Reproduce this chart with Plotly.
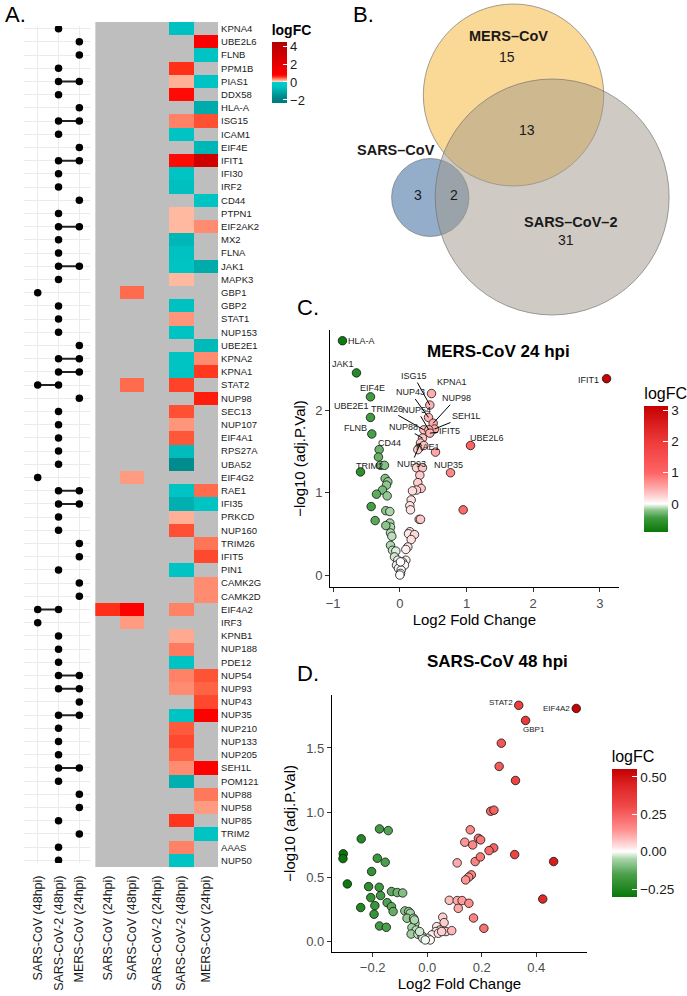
import numpy as np
import plotly.graph_objects as go

W, H = 687, 996

# ---------------- DATA ----------------
genes = ["KPNA4", "UBE2L6", "FLNB", "PPM1B", "PIAS1", "DDX58", "HLA-A", "ISG15", "ICAM1", "EIF4E",
         "IFIT1", "IFI30", "IRF2", "CD44", "PTPN1", "EIF2AK2", "MX2", "FLNA", "JAK1", "MAPK3",
         "GBP1", "GBP2", "STAT1", "NUP153", "UBE2E1", "KPNA2", "KPNA1", "STAT2", "NUP98", "SEC13",
         "NUP107", "EIF4A1", "RPS27A", "UBA52", "EIF4G2", "RAE1", "IFI35", "PRKCD", "NUP160", "TRIM26",
         "IFIT5", "PIN1", "CAMK2G", "CAMK2D", "EIF4A2", "IRF3", "KPNB1", "NUP188", "PDE12", "NUP54",
         "NUP93", "NUP43", "NUP35", "NUP210", "NUP133", "NUP205", "SEH1L", "POM121", "NUP88", "NUP58",
         "NUP85", "TRIM2", "AAAS", "NUP50"]

heat_conditions = ["SARS-CoV (24hpi)", "SARS-CoV (48hpi)", "SARS-CoV-2 (24hpi)",
                   "SARS-CoV-2 (48hpi)", "MERS-CoV (24hpi)"]
dot_conditions = ["SARS-CoV (48hpi)", "SARS-CoV-2 (48hpi)", "MERS-CoV (24hpi)"]

fc_sars_24 = {"EIF4A2": 0.58}
fc_sars_48 = {"GBP1": 0.4, "STAT2": 0.4, "EIF4G2": 0.25, "EIF4A2": 0.85, "IRF3": 0.25}
fc_cov2_24 = {}
fc_cov2_48 = {
    "KPNA4": -0.55, "PPM1B": 0.58, "PIAS1": 0.18, "DDX58": 0.75, "ISG15": 0.33, "ICAM1": -0.5,
    "IFIT1": 0.75, "IFI30": -0.5, "IRF2": -0.6, "PTPN1": 0.15, "EIF2AK2": 0.15, "MX2": -0.75,
    "FLNA": -0.55, "JAK1": -0.5, "MAPK3": 0.15, "GBP2": -0.55, "STAT1": 0.27, "NUP153": -0.5,
    "KPNA2": -0.5, "KPNA1": -0.5, "STAT2": 0.52, "SEC13": 0.48, "NUP107": 0.27, "EIF4A1": 0.46,
    "RPS27A": -0.65, "UBA52": -1.6, "RAE1": -0.5, "IFI35": -0.9, "PRKCD": 0.18, "NUP160": 0.48,
    "PIN1": -0.5, "EIF4A2": 0.33, "KPNB1": 0.2, "NUP188": 0.35, "PDE12": -0.5, "NUP54": 0.33,
    "NUP93": 0.3, "NUP35": -0.5, "NUP210": 0.45, "NUP133": 0.5, "NUP205": 0.42, "SEH1L": 0.3,
    "POM121": -0.9, "NUP85": 0.56, "AAAS": 0.33, "NUP50": -0.5}
fc_mers_24 = {
    "UBE2L6": 1.0, "FLNB": -0.5, "PIAS1": -0.5, "HLA-A": -1.0, "ISG15": 0.48, "EIF4E": -0.75,
    "IFIT1": 3.1, "CD44": -0.5, "EIF2AK2": 0.3, "JAK1": -1.0, "UBE2E1": -0.7, "KPNA2": 0.3,
    "KPNA1": 0.55, "NUP98": 0.65, "RAE1": 0.4, "IFI35": -0.5, "TRIM26": 0.37, "IFIT5": 0.5,
    "CAMK2G": 0.3, "CAMK2D": 0.3, "NUP54": 0.47, "NUP93": 0.42, "NUP43": 0.5, "NUP35": 0.9,
    "SEH1L": 0.9, "NUP88": 0.36, "NUP58": 0.25, "TRIM2": -0.5}

venn_names = ["MERS–CoV", "SARS–CoV", "SARS–CoV–2"]

# Volcano C: MERS-CoV 24 hpi
mers_fc = [-0.86, -0.65, -0.44, -0.44, -0.42, -0.31, -0.32, -0.29, -0.23, -0.59,
           -0.22, -0.18, -0.20, -0.26, -0.35, -0.19, -0.43, -0.21, -0.15, -0.37,
           -0.15, -0.14, -0.21, -0.14, -0.12, -0.14, -0.11, -0.06, -0.08, -0.03,
           -0.05, -0.02,
           3.10, 1.06, 0.76, 0.95, 0.475, 0.45, 0.43, 0.50, 0.52, 0.36,
           0.435, 0.45, 0.34, 0.31, 0.29, 0.36, 0.535, 0.27, 0.25, 0.34,
           0.30, 0.27, 0.32, 0.25, 0.19, 0.17, 0.15, 0.16, 0.29, 0.31,
           0.15, 0.13, 0.22, 0.17, 0.12, 0.09, 0.09, 0.04, 0.07, 0.02,
           0.01, 0.0, 0.01]
mers_p = [2.84, 2.45, 2.16, 1.91, 1.71, 1.52, 1.43, 1.33, 1.33, 1.25,
          1.17, 1.13, 1.09, 1.03, 0.98, 0.96, 0.83, 0.78, 0.77, 0.66,
          0.63, 0.58, 0.60, 0.51, 0.47, 0.36, 0.30, 0.29, 0.22, 0.18,
          0.12, 0.08,
          2.38, 1.57, 1.24, 0.79, 2.20, 2.06, 1.91, 1.84, 1.77, 1.76,
          1.76, 1.72, 1.66, 1.60, 1.54, 1.57, 1.49, 1.52, 1.30, 1.30,
          1.21, 1.12, 1.05, 1.03, 1.02, 0.91, 0.84, 0.79, 0.675, 0.675,
          0.525, 0.50, 0.49, 0.43, 0.34, 0.31, 0.18, 0.16, 0.12, 0.06,
          0.02, 0.0, 0.16]
mers_names = ["HLA-A", "JAK1", "EIF4E", "UBE2E1", "FLNB", "CD44", "", "", "", "TRIM2",
              "", "", "", "", "", "", "", "", "", "",
              "", "", "", "", "", "", "", "", "", "",
              "", "",
              "IFIT1", "UBE2L6", "NUP35", "", "KPNA1", "ISG15", "NUP43", "NUP98", "SEH1L", "TRIM26",
              "NUP54", "IFIT5", "NUP88", "NUP93", "", "", "RAE1", "", "", "",
              "", "", "", "", "", "", "", "", "", "",
              "", "", "", "", "", "", "", "", "", "",
              "", "", ""]

# Volcano D: SARS-CoV 48 hpi
sars_fc = [0.336, 0.547, 0.361, 0.272, 0.264, 0.324, 0.233, 0.245, 0.158, 0.138,
           0.167, 0.188, 0.196, 0.244, 0.227, 0.321, 0.464, 0.176, 0.195, 0.11,
           0.162, 0.152, 0.141, 0.424, 0.081, 0.11, 0.128, 0.153, 0.114, 0.17,
           0.208,
           0.057, 0.062, 0.035, 0.047, 0.069, 0.09, 0.032, 0.017, 0.002, 0.011, 0.041, 0.053,
           -0.308, -0.309, -0.293, -0.242, -0.175, -0.143, -0.183, -0.154, -0.204, -0.215,
           -0.176, -0.207, -0.171, -0.192, -0.244, -0.195, -0.147, -0.131, -0.125, -0.131,
           -0.11, -0.09, -0.175, -0.15,
           -0.082, -0.068, -0.062, -0.074, -0.05, -0.045, -0.056, -0.04, -0.059, -0.034,
           -0.019, -0.016, -0.007, -0.028, -0.047]
sars_p = [1.83, 1.806, 1.713, 1.537, 1.357, 1.248, 1.01, 1.018, 0.866, 0.77,
          0.749, 0.80, 0.788, 0.726, 0.705, 0.674, 0.62, 0.62, 0.656, 0.61,
          0.517, 0.499, 0.478, 0.33, 0.32, 0.318, 0.318, 0.297, 0.258, 0.183,
          0.103,
          0.189, 0.147, 0.116, 0.09, 0.078, 0.085, 0.078, 0.052, 0.026, 0.013, 0.065, 0.078,
          0.68, 0.643, 0.447, 0.796, 0.873, 0.86, 0.646, 0.615, 0.543, 0.426,
          0.421, 0.341, 0.357, 0.279, 0.264, 0.212, 0.302, 0.271, 0.233, 0.388,
          0.38, 0.377, 0.121, 0.111,
          0.238, 0.233, 0.22, 0.181, 0.181, 0.142, 0.109, 0.09, 0.059, 0.057,
          0.044, 0.026, 0.013, 0.078, 0.168]
sars_names = ["STAT2", "EIF4A2", "GBP1"] + [""] * (len(sars_fc) - 3)

# ---------------- STYLE / LAYOUT CONSTANTS ----------------
FONT = "Liberation Sans, Arial, Helvetica, sans-serif"


def fx(px):
    return px / W


def fy(py):
    return 1 - py / H


def scale_from_stops(stops, vmin, vmax):
    return [[(v - vmin) / (vmax - vmin), c] for v, c in stops]


HEAT_MIN, HEAT_MAX = -2.34, 4.45
heat_scale = scale_from_stops([
    (-2.34, "#007878"), (-1.6, "#008C8C"), (-0.9, "#00B0B0"), (-0.45, "#00C6C6"),
    (-0.001, "#00CECE"), (0.0, "#FFE2D4"), (0.15, "#FFB9A0"), (0.3, "#FF8C70"),
    (0.45, "#FF5A3C"), (0.6, "#FF2812"), (0.8, "#FF0000"), (2.0, "#E60000"),
    (4.45, "#B20000")], HEAT_MIN, HEAT_MAX)

C_MIN, C_MAX = -0.9, 3.13
c_scale = scale_from_stops([
    (-0.9, "#087808"), (-0.45, "#3E9A3E"), (-0.2, "#8CC68C"), (0.0, "#FFFFFF"),
    (0.25, "#FFD2D2"), (0.5, "#FFAAAA"), (1.0, "#FF6464"), (2.0, "#EE3A3A"),
    (3.13, "#C60000")], C_MIN, C_MAX)

D_MIN, D_MAX = -0.303, 0.552
d_scale = scale_from_stops([
    (-0.303, "#087808"), (-0.15, "#4CA04C"), (-0.05, "#A8D4A8"), (0.0, "#FFFFFF"),
    (0.05, "#FFD4D4"), (0.15, "#FF8C8C"), (0.3, "#F04A4A"), (0.45, "#DC2222"),
    (0.552, "#C40000")], D_MIN, D_MAX)

# label offsets (pixels: dx right, dy down, draw line?)
c_label_style = {
    "HLA-A": (19, 0, False), "JAK1": (-13, -9, False), "EIF4E": (2, -9, False),
    "UBE2E1": (-19, -11, False), "FLNB": (-16, -6, False), "CD44": (10, -7, False),
    "TRIM2": (9, -6, False), "IFIT1": (-18, 1, False), "UBE2L6": (16, -8, False),
    "NUP35": (-2, -8, False), "KPNA1": (20, -12, False), "RAE1": (-8, -5, False),
    "ISG15": (-16, -29, True), "NUP43": (-18, -25, True), "NUP98": (23, -25, True),
    "TRIM26": (-37, -21, True), "NUP54": (-12, -20, True), "SEH1L": (32, -13, True),
    "NUP88": (-19, -11, True), "IFIT5": (20, -2, True), "NUP93": (-9, 21, True)}
d_label_style = {"STAT2": (-18, -3), "EIF4A2": (-20, 0), "GBP1": (8, 9)}

# ---------------- BUILD ----------------
n = len(genes)
cols = [fc_sars_24, fc_sars_48, fc_cov2_24, fc_cov2_48, fc_mers_24]
z = np.array([[c.get(g, np.nan) for c in cols] for g in genes], dtype=float)

fig = go.Figure()

# dot matrix (membership derived from data)
dot_sets = [fc_sars_48, fc_cov2_48, fc_mers_24]
dx, dy, lx, ly = [], [], [], []
for i, g in enumerate(genes):
    members = [k for k, s in enumerate(dot_sets) if g in s]
    for k in members:
        dx.append(k)
        dy.append(i)
    if len(members) > 1:
        lx += [min(members), max(members), None]
        ly += [i, i, None]

fig.add_trace(go.Scatter(x=lx, y=ly, mode="lines", line=dict(color="#222222", width=2),
                         xaxis="x", yaxis="y", hoverinfo="skip", showlegend=False))
fig.add_trace(go.Scatter(x=dx, y=dy, mode="markers", marker=dict(color="black", size=7.5),
                         xaxis="x", yaxis="y", showlegend=False))

# heatmap
fig.add_trace(go.Heatmap(
    z=z, x=list(range(len(heat_conditions))), y=list(range(n)), xaxis="x2", yaxis="y2",
    colorscale=heat_scale, zmin=HEAT_MIN, zmax=HEAT_MAX, hoverongaps=False,
    colorbar=dict(x=fx(270), xanchor="left", y=fy(103), yanchor="bottom",
                  len=82, lenmode="pixels", thickness=15, outlinewidth=0,
                  xpad=0, ypad=0, tickvals=[4, 2, 0, -2],
                  ticks="inside", ticklen=4, tickcolor="white",
                  tickfont=dict(size=13, color="#1a1a1a", family=FONT),
                  title=dict(text="<b>logFC</b>", side="top",
                             font=dict(size=14, color="black", family=FONT)))))

# volcano C
fig.add_trace(go.Scatter(
    x=mers_fc, y=mers_p, mode="markers", xaxis="x4", yaxis="y4", showlegend=False,
    text=mers_names,
    marker=dict(size=8.5, color=mers_fc, colorscale=c_scale, cmin=C_MIN, cmax=C_MAX,
                line=dict(color="#111111", width=0.8),
                colorbar=dict(x=fx(646), xanchor="left", y=fy(532), yanchor="bottom",
                              len=148, lenmode="pixels", thickness=24, outlinewidth=0,
                              xpad=0, ypad=0, tickvals=[0, 1, 2, 3],
                              ticks="inside", ticklen=5, tickcolor="white",
                              tickfont=dict(size=13.5, color="#1a1a1a", family=FONT),
                              title=dict(text="logFC", side="top",
                                         font=dict(size=16, color="black", family=FONT))))))

# volcano D
fig.add_trace(go.Scatter(
    x=sars_fc, y=sars_p, mode="markers", xaxis="x5", yaxis="y5", showlegend=False,
    text=sars_names,
    marker=dict(size=8.5, color=sars_fc, colorscale=d_scale, cmin=D_MIN, cmax=D_MAX,
                line=dict(color="#111111", width=0.8),
                colorbar=dict(x=fx(613), xanchor="left", y=fy(897), yanchor="bottom",
                              len=150, lenmode="pixels", thickness=25, outlinewidth=0,
                              xpad=0, ypad=0, tickvals=[0.5, 0.25, 0, -0.25],
                              tickformat=".2f",
                              ticks="inside", ticklen=5, tickcolor="white",
                              tickfont=dict(size=13.5, color="#1a1a1a", family=FONT),
                              title=dict(text="logFC", side="top",
                                         font=dict(size=16, color="black", family=FONT))))))

# ---------------- AXES ----------------
hidden = dict(visible=False, showgrid=False, zeroline=False)
cat_tick_font = dict(size=12.5, color="#1a1a1a", family=FONT)
vol_tick_font = dict(size=13, color="#4D4D4D", family=FONT)

layout = dict(
    width=W, height=H, margin=dict(l=0, r=0, t=0, b=0),
    paper_bgcolor="white", plot_bgcolor="white", showlegend=False,
    font=dict(family=FONT, color="black"),
    # dot matrix
    xaxis=dict(domain=[fx(20), fx(87)], range=[-0.667, 2.524], tickvals=[0, 1, 2],
               ticktext=dot_conditions, tickangle=-90, tickfont=cat_tick_font,
               showgrid=True, gridcolor="#EBEBEB", gridwidth=1, zeroline=False,
               showline=False, ticks="", ticklabelstandoff=9, anchor="y"),
    yaxis=dict(domain=[fy(863), fy(26)], range=[63.2, -0.2], tickvals=list(range(n)),
               showticklabels=False, showgrid=True, gridcolor="#EBEBEB", gridwidth=1,
               zeroline=False, showline=False, ticks="", anchor="x"),
    # heatmap
    xaxis2=dict(domain=[fx(92), fx(216)], range=[-0.5, 4.5],
                tickvals=list(range(len(heat_conditions))), ticktext=heat_conditions,
                tickangle=-90, tickfont=cat_tick_font, showgrid=False, zeroline=False,
                showline=False, ticks="", ticklabelstandoff=5, anchor="y2"),
    yaxis2=dict(domain=[fy(867), fy(22)], range=[63.5, -0.5], tickvals=list(range(n)),
                ticktext=genes, side="right", tickfont=dict(size=9.5, color="#1a1a1a", family=FONT),
                showgrid=False, zeroline=False, showline=False, ticks="",
                ticklabelstandoff=2, anchor="x2"),
    # venn
    xaxis3=dict(domain=[fx(340), 1], range=[340, 687], anchor="y3", **hidden),
    yaxis3=dict(domain=[fy(330), 1], range=[330, 0], anchor="x3", **hidden),
    # volcano C
    xaxis4=dict(domain=[fx(329), fx(620)], range=[-1.045, 3.28], tickvals=[-1, 0, 1, 2, 3],
                showline=True, linecolor="black", linewidth=1, ticks="outside", ticklen=4,
                tickcolor="#333333", tickfont=vol_tick_font, showgrid=False, zeroline=False,
                title=dict(text="Log2 Fold Change", font=dict(size=15, color="black", family=FONT),
                           standoff=3),
                anchor="y4"),
    yaxis4=dict(domain=[fy(587), fy(330)], range=[-0.145, 2.97], tickvals=[0, 1, 2],
                showline=True, linecolor="black", linewidth=1, ticks="outside", ticklen=4,
                tickcolor="#333333", tickfont=vol_tick_font, showgrid=False, zeroline=False,
                title=dict(text="−log10 (adj.P.Val)", font=dict(size=15, color="black", family=FONT),
                           standoff=6),
                anchor="x4"),
    # volcano D
    xaxis5=dict(domain=[fx(330.7), fx(588.3)], range=[-0.35, 0.587], tickvals=[-0.2, 0, 0.2, 0.4],
                tickformat=".1f",
                showline=True, linecolor="black", linewidth=1, ticks="outside", ticklen=4,
                tickcolor="#333333", tickfont=vol_tick_font, showgrid=False, zeroline=False,
                title=dict(text="Log2 Fold Change", font=dict(size=15, color="black", family=FONT),
                           standoff=3),
                anchor="y5"),
    yaxis5=dict(domain=[fy(951.7), fy(695)], range=[-0.078, 1.91], tickvals=[0, 0.5, 1.0, 1.5],
                tickformat=".1f",
                showline=True, linecolor="black", linewidth=1, ticks="outside", ticklen=4,
                tickcolor="#333333", tickfont=vol_tick_font, showgrid=False, zeroline=False,
                title=dict(text="−log10 (adj.P.Val)", font=dict(size=15, color="black", family=FONT),
                           standoff=6),
                anchor="x5"),
)
fig.update_layout(**layout)

# ---------------- SHAPES ----------------
shapes = []
# gray background for missing heatmap cells
shapes.append(dict(type="rect", xref="x2", yref="y2", x0=-0.5, x1=4.5, y0=-0.5, y1=n - 0.5,
                   fillcolor="#BEBEBE", line=dict(width=0), layer="below"))

# venn circles (geometry in panel pixel units)
venn_geom = {"MERS–CoV": (514, 95, 91), "SARS–CoV–2": (553, 197, 118), "SARS–CoV": (430, 197.5, 39)}
venn_fill = {"MERS–CoV": "rgba(247,190,80,0.6)", "SARS–CoV–2": "rgba(160,152,138,0.5)",
             "SARS–CoV": "rgba(60,105,160,0.55)"}
for name in ["SARS–CoV", "MERS–CoV", "SARS–CoV–2"]:
    cx, cy, r = venn_geom[name]
    shapes.append(dict(type="circle", xref="x3", yref="y3", x0=cx - r, x1=cx + r,
                       y0=cy - r, y1=cy + r, fillcolor=venn_fill[name],
                       line=dict(color="rgba(110,110,110,0.8)", width=0.8), layer="above"))
fig.update_layout(shapes=shapes)

# ---------------- ANNOTATIONS ----------------
ann = []
for txt, x, y in [("A.", 12, 15), ("B.", 363, 15), ("C.", 307, 307), ("D.", 307, 673)]:
    ann.append(dict(text=txt, x=fx(x), y=fy(y), xref="paper", yref="paper", showarrow=False,
                    xanchor="center", yanchor="middle", font=dict(size=22, color="black", family=FONT)))

# venn counts
s1 = set(fc_sars_48)
s2 = set(fc_cov2_48)
s3 = set(fc_mers_24)
venn_counts = {
    "mers_only": len(s3 - s2 - s1),
    "mers_cov2": len((s3 & s2) - s1),
    "sars_only": len(s1 - s2 - s3),
    "sars_cov2": len((s1 & s2) - s3),
    "cov2_only": len(s2 - s1 - s3),
}
venn_text_pos = {"mers_only": (507, 57), "mers_cov2": (528, 130), "sars_only": (418, 195),
                 "sars_cov2": (454, 195), "cov2_only": (567, 240)}
for key, (x, y) in venn_text_pos.items():
    ann.append(dict(text=str(venn_counts[key]), x=x, y=y, xref="x3", yref="y3", showarrow=False,
                    xanchor="center", yanchor="middle",
                    font=dict(size=14, color="#1a1a1a", family=FONT)))
venn_label_pos = {"MERS–CoV": (509, 36), "SARS–CoV": (395, 150), "SARS–CoV–2": (571, 222)}
for name, (x, y) in venn_label_pos.items():
    ann.append(dict(text="<b>" + name + "</b>", x=x, y=y, xref="x3", yref="y3", showarrow=False,
                    xanchor="center", yanchor="middle",
                    font=dict(size=14.5, color="#1a1a1a", family=FONT)))

# volcano titles
ann.append(dict(text="<b>MERS-CoV 24 hpi</b>", x=fx(499), y=fy(352), xref="paper", yref="paper",
                xanchor="center", yanchor="middle",
                showarrow=False, font=dict(size=17, color="black", family=FONT)))
ann.append(dict(text="<b>SARS-CoV 48 hpi</b>", x=fx(498), y=fy(661), xref="paper", yref="paper",
                xanchor="center", yanchor="middle",
                showarrow=False, font=dict(size=17, color="black", family=FONT)))

# volcano C gene labels
for name, xv, yv in zip(mers_names, mers_fc, mers_p):
    if not name:
        continue
    ddx, ddy, line = c_label_style[name]
    if line:
        ann.append(dict(text=name, x=xv, y=yv, xref="x4", yref="y4", showarrow=True,
                        arrowhead=0, arrowwidth=1, arrowcolor="black", ax=ddx, ay=ddy,
                        standoff=0, font=dict(size=9, color="#1a1a1a", family=FONT)))
    else:
        ann.append(dict(text=name, x=xv, y=yv, xref="x4", yref="y4", showarrow=False,
                        xanchor="center", yanchor="middle",
                        xshift=ddx, yshift=-ddy, font=dict(size=9, color="#1a1a1a", family=FONT)))

# volcano D gene labels
for name, xv, yv in zip(sars_names, sars_fc, sars_p):
    if not name:
        continue
    ddx, ddy = d_label_style[name]
    ann.append(dict(text=name, x=xv, y=yv, xref="x5", yref="y5", showarrow=False,
                    xanchor="center", yanchor="middle",
                    xshift=ddx, yshift=-ddy, font=dict(size=8, color="#1a1a1a", family=FONT)))

fig.update_layout(annotations=ann)

fig.write_html("out.html", config={"displayModeBar": False},
               post_script="document.body.style.margin='0px';document.body.style.padding='0px';")
